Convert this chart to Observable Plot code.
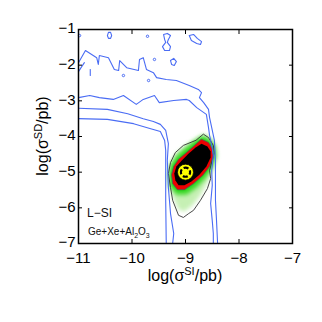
<!DOCTYPE html>
<html><head><meta charset="utf-8">
<script src="https://cdn.jsdelivr.net/npm/d3@7"></script>
<script src="https://cdn.jsdelivr.net/npm/@observablehq/plot@0.6"></script>
<style>body{margin:0;background:#fff}</style>
</head><body><div id="chart"></div>
<script>
const xTicks = [-11, -10, -9, -8, -7];
const yTicks = [-7, -6, -5, -4, -3, -2, -1];

// blue credible-region contours (log sigma_SI, log sigma_SD)
const outer95 = [[-11.00,-1.93],[-10.87,-1.59],[-10.66,-1.79],[-10.63,-1.98],[-10.61,-1.73],[-10.44,-1.79],[-10.33,-2.12],[-10.25,-2.15],[-10.23,-1.87],[-10.10,-2.07],[-9.88,-2.15],[-9.86,-1.84],[-9.79,-1.79],[-9.73,-2.12],[-9.60,-2.21],[-9.54,-2.35],[-9.36,-2.40],[-9.17,-2.43],[-8.93,-2.57],[-8.76,-2.68],[-8.70,-2.77],[-8.74,-2.91],[-8.66,-3.05],[-8.57,-3.24],[-8.55,-3.47],[-8.51,-3.75],[-8.46,-4.11],[-8.44,-4.67],[-8.44,-5.79],[-8.42,-6.36],[-8.40,-7.00]];
const leftPiece = [[-11.00,-2.18],[-10.94,-2.04],[-10.89,-1.93]];
const outer68 = [[-11.00,-2.91],[-10.79,-2.85],[-10.61,-2.91],[-10.35,-2.96],[-10.16,-2.85],[-9.92,-3.10],[-9.79,-2.96],[-9.58,-2.85],[-9.49,-3.05],[-9.22,-2.99],[-8.98,-2.96],[-8.93,-2.99],[-8.79,-3.19],[-8.61,-3.38],[-8.57,-3.75],[-8.55,-3.97],[-8.51,-4.25],[-8.48,-4.53],[-8.51,-4.95],[-8.50,-5.37],[-8.53,-5.88],[-8.50,-6.36],[-8.48,-6.72],[-8.48,-7.00]];
const inner68 = [[-11.00,-3.21],[-10.46,-3.24],[-10.08,-3.36],[-9.79,-3.50],[-9.60,-3.58],[-9.47,-3.66],[-9.37,-3.83],[-9.32,-4.20],[-9.34,-4.67],[-9.32,-5.43],[-9.28,-6.16],[-9.22,-6.72],[-9.24,-7.00]];
const inner95 = [[-11.00,-3.50],[-10.46,-3.52],[-9.97,-3.64],[-9.65,-3.78],[-9.47,-3.86],[-9.39,-4.11],[-9.37,-4.39],[-9.37,-5.79],[-9.36,-7.00]];
const islands = [
  [[-10.44,-1.08],[-10.40,-1.08],[-10.38,-1.17],[-10.40,-1.25],[-10.44,-1.25],[-10.46,-1.17]],
  [[-9.41,-1.14],[-9.34,-1.11],[-9.28,-1.17],[-9.32,-1.28],[-9.34,-1.36],[-9.28,-1.48],[-9.30,-1.59],[-9.39,-1.59],[-9.43,-1.48],[-9.37,-1.36],[-9.39,-1.28]],
  [[-9.28,-1.87],[-9.22,-1.81],[-9.17,-1.90],[-9.21,-2.01],[-9.26,-1.98]],
  [[-8.93,-1.17],[-8.85,-1.14],[-8.78,-1.25],[-8.70,-1.34],[-8.72,-1.42],[-8.79,-1.39],[-8.89,-1.31]]
];
const specks = [[-9.71,-1.19],[-9.58,-1.84],[-10.16,-2.29],[-9.69,-2.43],[-10.98,-1.17]];
const dash = [[-10.78,-2.12],[-10.78,-2.29]];

// L-SI posterior (filled levels)
const blackContour = [[-8.66,-3.94],[-8.57,-4.03],[-8.48,-4.25],[-8.46,-4.45],[-8.50,-4.67],[-8.55,-4.95],[-8.53,-5.18],[-8.59,-5.46],[-8.72,-5.79],[-8.85,-6.07],[-8.94,-6.16],[-9.04,-6.27],[-9.13,-6.21],[-9.24,-5.79],[-9.28,-5.43],[-9.32,-5.04],[-9.28,-4.73],[-9.19,-4.45],[-9.04,-4.25],[-8.81,-4.11]];
const paleGreen = [[-8.64,-3.94],[-8.50,-4.17],[-8.46,-4.45],[-8.51,-4.81],[-8.57,-5.23],[-8.72,-5.65],[-8.87,-5.93],[-9.02,-6.10],[-9.13,-6.05],[-9.22,-5.74],[-9.28,-5.40],[-9.30,-5.04],[-9.26,-4.73],[-9.15,-4.45],[-8.98,-4.25],[-8.79,-4.08]];
const brightGreen = [[-8.68,-3.97],[-8.53,-4.08],[-8.44,-4.28],[-8.42,-4.56],[-8.50,-4.90],[-8.63,-5.18],[-8.79,-5.43],[-8.98,-5.63],[-9.17,-5.63],[-9.30,-5.40],[-9.32,-5.09],[-9.28,-4.78],[-9.17,-4.53],[-9.00,-4.31],[-8.83,-4.11]];
const redLevel = [[-8.70,-4.08],[-8.57,-4.17],[-8.50,-4.34],[-8.48,-4.56],[-8.55,-4.84],[-8.68,-5.09],[-8.85,-5.32],[-9.02,-5.49],[-9.15,-5.49],[-9.24,-5.32],[-9.26,-5.07],[-9.22,-4.84],[-9.13,-4.64],[-8.98,-4.45],[-8.83,-4.25]];
const coreLevel = [[-8.70,-4.20],[-8.59,-4.28],[-8.53,-4.42],[-8.53,-4.59],[-8.61,-4.84],[-8.74,-5.07],[-8.89,-5.26],[-9.02,-5.37],[-9.13,-5.37],[-9.19,-5.23],[-9.21,-5.04],[-9.17,-4.84],[-9.07,-4.67],[-8.94,-4.48],[-8.81,-4.31]];
const benchmark = [[-9, -5]];

const blue = "#4a6cf4";
const bl = {stroke: blue, strokeWidth: 1.1, fill: "none"};
const C = 2 * Math.PI * 4.6, A = C / 4 - 2.2;
const fmt = d => (d < 0 ? "−" : "") + Math.abs(d);

const plot = Plot.plot({
  width: 322, height: 322,
  marginLeft: 78, marginRight: 30, marginTop: 29, marginBottom: 79,
  x: {domain: [-11, -7], label: null},
  y: {domain: [-7, -1], label: null},
  style: {fontFamily: "'Liberation Sans', Arial, sans-serif", fontSize: "15px", background: "white", color: "black"},
  marks: [
    Plot.line(paleGreen, {fill: "#c6f0b4", stroke: "none", curve: "linear-closed", imageFilter: "blur(2px)"}),
    Plot.line(brightGreen, {fill: "#3cd828", stroke: "none", curve: "linear-closed", imageFilter: "blur(2px)"}),
    Plot.line(redLevel, {fill: "#00d000", stroke: "none", curve: "linear-closed", imageFilter: "blur(1.5px)"}),
    Plot.line(redLevel, {fill: "#ee0000", stroke: "#555", strokeWidth: 0.8, curve: "linear-closed"}),
    Plot.line(coreLevel, {fill: "black", stroke: "none", curve: "linear-closed"}),
    Plot.line(blackContour, {stroke: "#333", strokeWidth: 0.9, fill: "none", curve: "linear-closed"}),
    Plot.line(outer95, bl),
    Plot.line(leftPiece, bl),
    Plot.line(outer68, bl),
    Plot.line(inner68, bl),
    Plot.line(inner95, bl),
    ...islands.map(p => Plot.line(p, {...bl, curve: "linear-closed"})),
    Plot.line(dash, bl),
    Plot.dot(specks, {r: 1.2, stroke: blue, strokeWidth: 1, fill: "none"}),
    Plot.dot(benchmark, {r: 8, fill: "#ffff00", stroke: "black", strokeWidth: 0.8}),
    Plot.dot(benchmark, {r: 4.6, fill: "none", stroke: "black", strokeWidth: 2.2, strokeDasharray: `${A},2.2`, strokeDashoffset: A / 2}),
    Plot.frame({stroke: "black", strokeWidth: 1.5}),
    Plot.axisX({anchor: "bottom", ticks: xTicks, tickSize: -4, fill: "none", label: null}),
    Plot.axisX({anchor: "top", ticks: xTicks, tickSize: -4, fill: "none", label: null}),
    Plot.axisY({anchor: "left", ticks: yTicks, tickSize: -4, fill: "none", label: null}),
    Plot.axisY({anchor: "right", ticks: yTicks, tickSize: -4, fill: "none", label: null}),
    Plot.axisX({anchor: "bottom", ticks: xTicks, tickFormat: fmt, tickSize: 0, tickPadding: 9, label: null}),
    Plot.axisY({anchor: "left", ticks: yTicks, tickFormat: fmt, tickSize: 0, tickPadding: 3, dy: -1, label: null})
  ]
});

const svg = d3.select(plot);
const font = "'Liberation Sans', Arial, sans-serif";
const xl = svg.append("text").attr("x", 185).attr("y", 281).attr("text-anchor", "middle")
  .attr("fill", "black").style("font-family", font).style("font-size", "16px");
xl.append("tspan").text("log(σ");
xl.append("tspan").attr("dy", -6).style("font-size", "11px").text("SI");
xl.append("tspan").attr("dy", 6).text("/pb)");
const yl = svg.append("text").attr("transform", "translate(48,136) rotate(-90)").attr("text-anchor", "middle")
  .attr("fill", "black").style("font-family", font).style("font-size", "16px");
yl.append("tspan").text("log(σ");
yl.append("tspan").attr("dy", -6).style("font-size", "11px").text("SD");
yl.append("tspan").attr("dy", 6).text("/pb)");
svg.append("text").attr("x", 87).attr("y", 217).attr("text-anchor", "start").attr("fill", "#111")
  .style("font-family", font).style("font-size", "12px").text("L−SI");
const lg = svg.append("text").attr("x", 88).attr("y", 235).attr("text-anchor", "start").attr("fill", "#111")
  .style("font-family", font).style("font-size", "10px");
lg.append("tspan").text("Ge+Xe+Al");
lg.append("tspan").attr("dy", 2.5).style("font-size", "7px").text("2");
lg.append("tspan").attr("dy", -2.5).text("O");
lg.append("tspan").attr("dy", 2.5).style("font-size", "7px").text("3");
document.getElementById("chart").appendChild(plot);
</script>
</body></html>
